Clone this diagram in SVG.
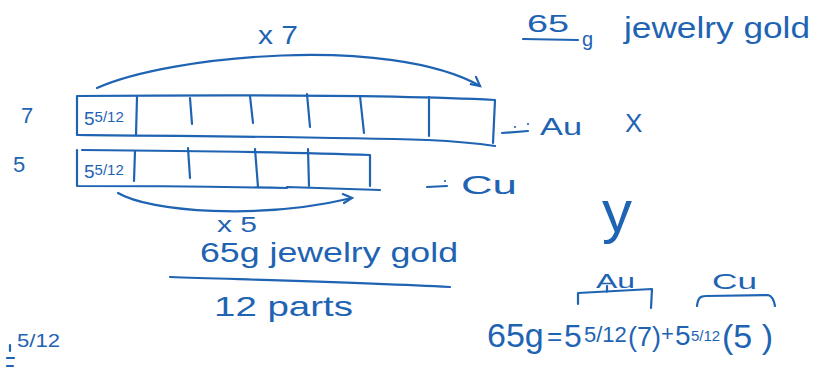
<svg xmlns="http://www.w3.org/2000/svg" width="815" height="369" viewBox="0 0 815 369">
<style>
.ink{fill:none;stroke:#1f63b3;stroke-width:2.2;stroke-linecap:round;stroke-linejoin:round}
.t{fill:#1f63b3;font-family:"Liberation Sans","DejaVu Sans",sans-serif}
</style>
<defs>
<marker id="hook" markerWidth="14" markerHeight="14" refX="10" refY="7" orient="auto" markerUnits="userSpaceOnUse">
<path d="M2,1 L10,7 L1,10" fill="none" stroke="#1f63b3" stroke-width="2.2" stroke-linecap="round"/>
</marker>
</defs>
<rect width="815" height="369" fill="#fff"/>

<g id="connectors">
<path class="ink" d="M97,88 C170,55 390,35 480,86" marker-end="url(#hook)"/>
<path class="ink" d="M118,193 C150,212 260,220 352,198" marker-end="url(#hook)"/>
</g>

<g id="label-7"><text class="t" x="21" y="123" font-size="22">7</text></g>
<g id="label-5"><text class="t" x="13" y="172" font-size="22">5</text></g>

<g id="bar-au">
<path class="ink" d="M77,96 L77,135 M77,96 C200,95 380,94 495,100 L493,143 M78,135 C200,136 330,137 427,140 M428,140 C450,141 475,143 495,146 M429,97 L429,136"/>
<path class="ink" d="M137,97 L136,135 M190,98 L192,124 M250,96 L253,123 M307,94 L310,127 M360,96 L364,133"/>
<text class="t" x="84" y="125" font-size="19">5<tspan font-size="15" dy="-3">5/12</tspan></text>
</g>

<g id="bar-cu">
<path class="ink" d="M77,150 L77,186 M82,150 C200,151 300,152 370,155 L370,186 M77,186 C150,186 230,187 287,188 M287,187 C320,188 350,189 380,190"/>
<path class="ink" d="M135,151 L134,181 M188,148 L190,178 M255,149 L258,187 M308,149 L309,186"/>
<text class="t" x="84" y="178" font-size="19">5<tspan font-size="15" dy="-3">5/12</tspan></text>
</g>

<g id="label-au-dash">
<path class="ink" d="M502,133 L528,131"/>
<circle cx="515" cy="127" r="1.1" fill="#1f63b3"/><circle cx="528" cy="124" r="1.1" fill="#1f63b3"/>
<text class="t" x="540" y="135" font-size="24" textLength="42" lengthAdjust="spacingAndGlyphs">Au</text>
</g>
<g id="label-cu-dash">
<path class="ink" d="M427,187 L447,186"/>
<circle cx="445" cy="181" r="1.1" fill="#1f63b3"/>
<text class="t" x="461" y="194" font-size="26" textLength="56" lengthAdjust="spacingAndGlyphs">Cu</text>
</g>

<g id="label-x"><text class="t" x="625" y="132" font-size="26">X</text></g>
<g id="label-y"><text class="t" x="602" y="232" font-size="60" textLength="30" lengthAdjust="spacingAndGlyphs">y</text></g>

<g id="times7"><text class="t" x="258" y="44" font-size="26" textLength="40" lengthAdjust="spacingAndGlyphs">x 7</text></g>
<g id="times5"><text class="t" x="217" y="232" font-size="22" textLength="40" lengthAdjust="spacingAndGlyphs">x 5</text></g>

<g id="title">
<text class="t" x="527" y="32" font-size="24" textLength="42" lengthAdjust="spacingAndGlyphs">65</text>
<path class="ink" d="M523,39 L578,40"/>
<text class="t" x="582" y="46" font-size="20">g</text>
<text class="t" x="624" y="38" font-size="30" textLength="186" lengthAdjust="spacingAndGlyphs">jewelry gold</text>
</g>

<g id="fraction">
<text class="t" x="200" y="262" font-size="28" textLength="258" lengthAdjust="spacingAndGlyphs">65g jewelry gold</text>
<path class="ink" d="M170,277 C260,280 370,283 450,287"/>
<text class="t" x="214" y="316" font-size="28" textLength="139" lengthAdjust="spacingAndGlyphs">12 parts</text>
</g>

<g id="fifth-twelfths">
<text class="t" x="17" y="347" font-size="18" textLength="43" lengthAdjust="spacingAndGlyphs">5/12</text>
<path class="ink" d="M10,345 L10,351 M7,358 L14,358 M7,366 L13,366"/>
</g>

<g id="equation">
<path class="ink" d="M578,304 L578,293 C600,292 630,290 652,289 L651,308 M607,286 L607,292"/>
<text class="t" x="596" y="288" font-size="20" textLength="39" lengthAdjust="spacingAndGlyphs">Au</text>
<path class="ink" d="M697,306 C698,298 700,296 706,296 L768,295 C772,296 774,300 775,306"/>
<text class="t" x="712" y="289" font-size="22" textLength="45" lengthAdjust="spacingAndGlyphs">Cu</text>
<text class="t" y="347"><tspan x="487" font-size="34">65g</tspan><tspan x="547" y="345" font-size="26">=</tspan><tspan x="564" y="347" font-size="32">5</tspan><tspan x="584" y="342" font-size="22">5/12</tspan><tspan x="628" y="346" font-size="27">(7)</tspan><tspan x="661" y="341" font-size="22">+</tspan><tspan x="675" y="345" font-size="28">5</tspan><tspan x="691" y="341" font-size="15">5/12</tspan><tspan x="722" y="348" font-size="34">(5  )</tspan></text>
</g>
</svg>
